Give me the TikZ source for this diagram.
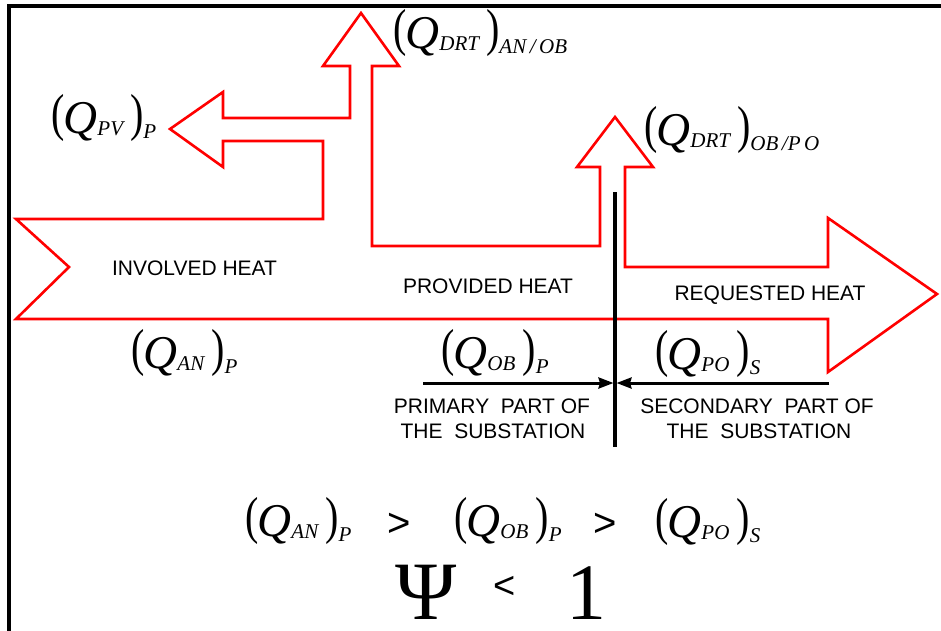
\documentclass[tikz,border=0pt]{standalone}
\usepackage{fontspec}
\setmainfont{Liberation Sans}
\newfontfamily\tms{Liberation Serif}
\usepackage{graphicx}
\usetikzlibrary{arrows.meta}

\newcommand\Lpar{\raisebox{3pt}{\scalebox{1}[1.3]{\fontsize{40}{40}\selectfont(}}}
\newcommand\Rpar{\raisebox{3pt}{\scalebox{1}[1.3]{\fontsize{40}{40}\selectfont)}}}
\newcommand\QQ[3][7pt]{{\tms\Lpar\kern-1pt{\fontsize{47}{47}\selectfont\itshape Q}\raisebox{-2pt}{\fontsize{21}{21}\selectfont\itshape #2}\kern#1\Rpar\raisebox{-5pt}{\fontsize{21}{21}\selectfont\itshape #3}}}

\begin{document}
\begin{tikzpicture}[x=1pt,y=-1pt,
  flow/.style={draw=red,line width=2.6pt,line join=miter},
  frameline/.style={draw=black,line width=3.5pt},
  divider/.style={draw=black,line width=3.2pt},
  partarrow/.style={draw=black,line width=3pt,-{Stealth[length=15pt,width=11pt,inset=1.5pt]}},
  lbl/.style={inner sep=0pt,font=\fontsize{21}{25}\selectfont,align=center},
  qlbl/.style={inner sep=0pt,anchor=base west},
  rel/.style={inner sep=0pt,font=\fontsize{40}{40}\selectfont}
]
\useasboundingbox (0,0) rectangle (941,630);
\fill[white] (0,0) rectangle (941,630);
% frame
\draw[frameline] (9,633) -- (9,6) -- (944,6);
% red flow outline
\draw[flow] (16,219) -- (323,219) -- (323,141) -- (223,141) -- (223,167) -- (170,129)
  -- (223,92) -- (223,118) -- (350,118) -- (350,66) -- (323,66) -- (361,13) -- (399,66)
  -- (372,66) -- (372,246) -- (600,246) -- (600,167) -- (577,167) -- (615,117) -- (653,167)
  -- (625,167) -- (625,267) -- (828,267) -- (828,218) -- (937,294) -- (828,372)
  -- (828,319) -- (16,319) -- (69,267) -- cycle;
% divider and part arrows
\coordinate (divtop) at (615,192);
\coordinate (divbot) at (615,447);
\coordinate (pstart) at (423,383);
\coordinate (pend) at (613.5,383);
\coordinate (sstart) at (829,383);
\coordinate (send) at (616.5,383);
\draw[divider] (divtop) -- (divbot);
\draw[partarrow] (pstart) -- (pend);
\draw[partarrow] (sstart) -- (send);
% sans labels
\node[lbl,anchor=base] (inv) at (194.5,275) {INVOLVED HEAT};
\node[lbl,anchor=base] (prov) at (488,293) {PROVIDED HEAT};
\node[lbl,anchor=base] (req) at (770,300) {REQUESTED HEAT};
\node[lbl,anchor=base] (prim1) at (492,413) {PRIMARY\ \ PART OF};
\node[lbl,anchor=base] (prim2) at (493,438) {THE\ \ SUBSTATION};
\node[lbl,anchor=base] (sec1) at (757,413) {SECONDARY\ \ PART OF};
\node[lbl,anchor=base] (sec2) at (759,438) {THE\ \ SUBSTATION};
% math labels
\node[qlbl] (qpv) at (51,133) {\QQ{PV}{P}};
\node[qlbl] (qdrt1) at (393,48) {\QQ{DRT}{AN\,/\,OB}};
\node[qlbl] (qdrt2) at (644,145) {\QQ{DRT}{OB\,/P\,O}};
\node[qlbl] (qan) at (131,368) {\QQ{AN}{P}};
\node[qlbl] (qob) at (441,368) {\QQ{OB}{P}};
\node[qlbl] (qpo) at (655,369) {\QQ{PO}{S}};
% inequality
\node[qlbl] (ean) at (245,536) {\QQ{AN}{P}};
\node[rel] (gt1) at (399,525) {>};
\node[qlbl] (eob) at (454,536) {\QQ{OB}{P}};
\node[rel] (gt2) at (605,525) {>};
\node[qlbl] (epo) at (655,537) {\QQ{PO}{S}};
\node[inner sep=0pt,anchor=base,font=\tms\fontsize{83}{83}\selectfont] (psi) at (426,619) {Ψ};
\node[rel,font=\fontsize{38}{38}\selectfont] (lt) at (505,587) {<};
\node[inner sep=0pt,anchor=base,font=\tms\fontsize{80}{80}\selectfont] (one) at (586,619) {1};
\end{tikzpicture}
\end{document}
